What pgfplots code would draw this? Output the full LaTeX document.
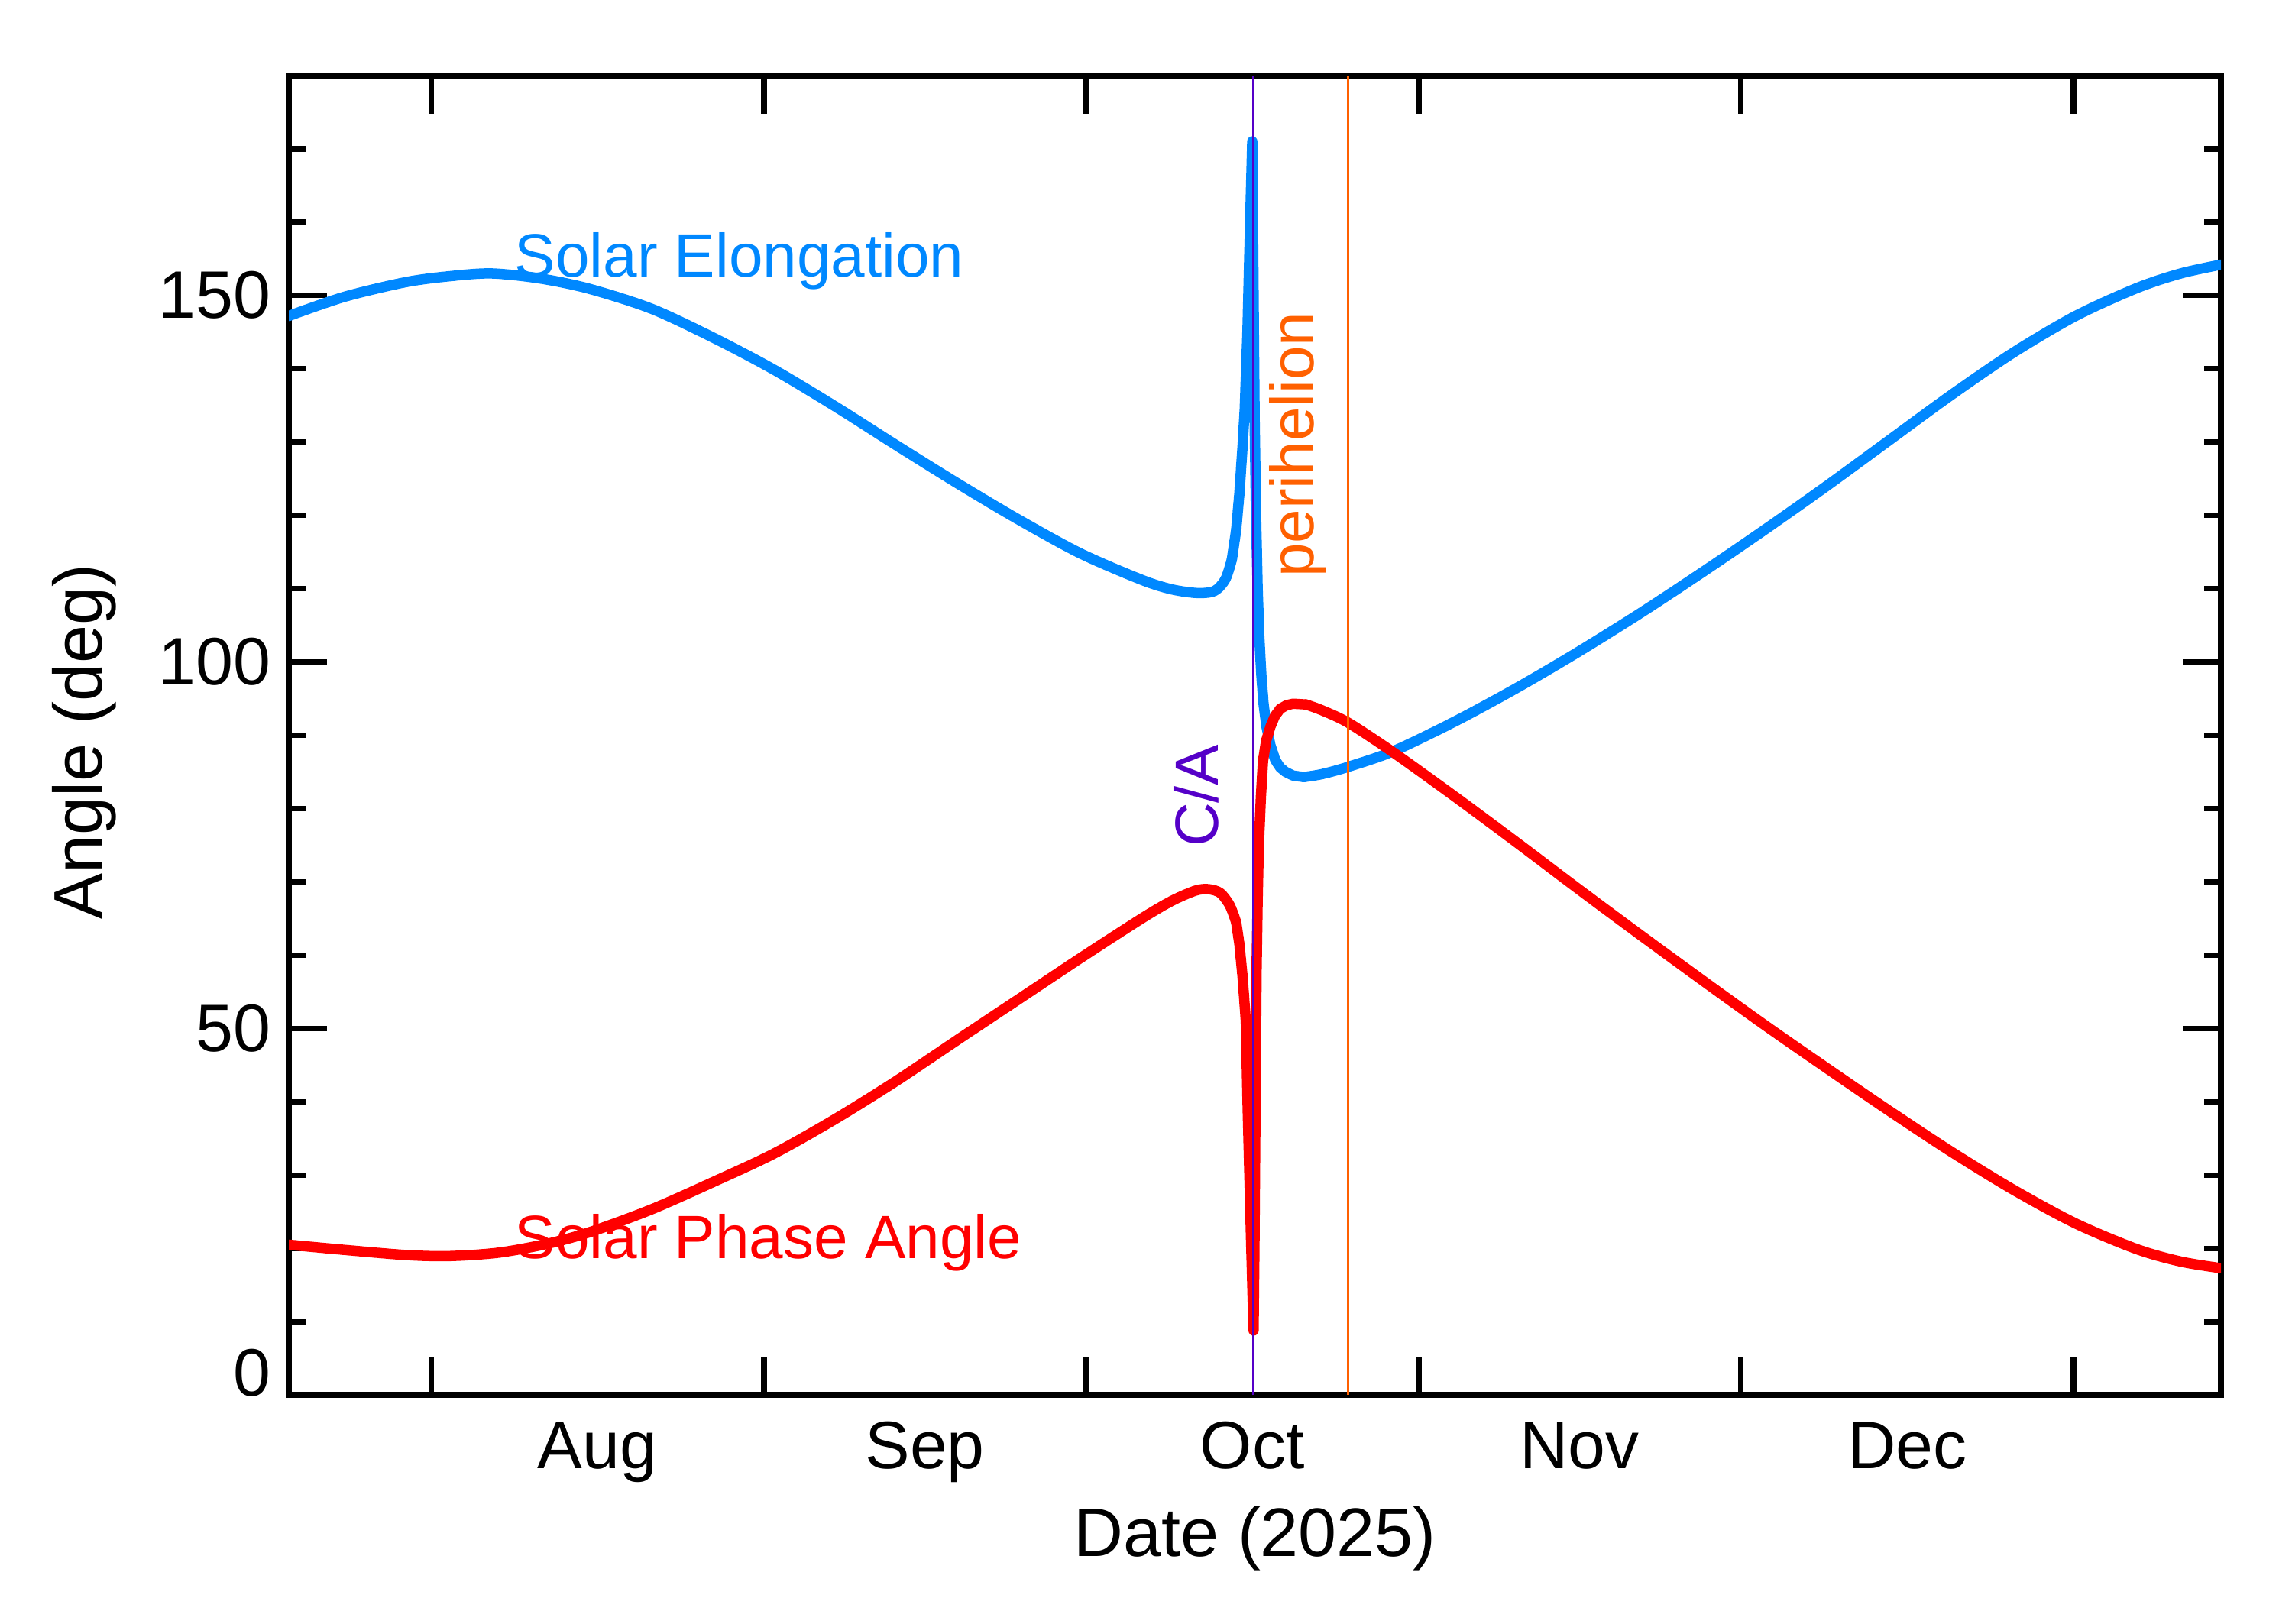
\documentclass[border=0pt]{standalone}
\usepackage{fontspec}
\setmainfont{Liberation Sans}
\usepackage{pgfplots}
\pgfplotsset{compat=1.18}

\definecolor{elong}{RGB}{0,136,255}
\definecolor{phase}{RGB}{255,0,0}
\definecolor{closeapp}{RGB}{85,0,200}
\definecolor{perih}{RGB}{255,96,0}

\begin{document}
\begin{tikzpicture}
% x = days since 1 Aug 2025
\begin{axis}[
    scale only axis,
    width=13.151cm, height=8.982cm,
    xmin=-13.25, xmax=166.75,
    ymin=0, ymax=180,
    axis line style={line width=1.2pt},
    tick style={line width=1.1pt, black},
    tick align=inside,
    major tick length=0.26cm,
    minor tick length=0.113cm,
    xtick={0,31,61,92,122,153},
    xticklabels={},
    extra x ticks={15.5,46,76.5,107,137.5},
    extra x tick labels={Aug,Sep,Oct,Nov,Dec},
    extra x tick style={major tick length=0pt},
    xticklabel style={yshift=-0.06cm},
    ytick={0,50,100,150},
    yticklabels={,50,100,150},
    minor ytick={10,20,30,40,60,70,80,90,110,120,130,140,160,170},
    extra y ticks={0},
    extra y tick labels={0},
    extra y tick style={major tick length=0pt, yticklabel style={yshift=0.15cm}},
    /pgf/number format/assume math mode=true,
    ticklabel style={font=\fontsize{13}{15}\selectfont},
    xlabel={Date (2025)},
    ylabel={Angle (deg)},
    label style={font=\fontsize{13.3}{16}\selectfont},
    xlabel style={at={(axis description cs:0.5,-0.1225)}, anchor=base},
    ylabel style={at={(axis description cs:-0.0968,0.495)}, anchor=base},
    every axis plot/.append style={line width=2pt, line join=round, line cap=round},
    clip=true,
]
% Solar Elongation: broad part before the close approach
\addplot[elong, smooth] coordinates {
(-13.25,147.2) (-8.1,149.8) (-2.4,151.8) (1.6,152.6) (5.6,153.0) (10.2,152.3)
(14.75,150.9) (20.5,148.2) (26.2,144.3) (31.9,139.9) (37.6,134.9) (43.3,129.6)
(49.0,124.4) (54.75,119.4) (60.5,114.8) (66.2,111.2) (69.0,109.9) (71.4,109.4)
(73.0,109.7) (74.0,111.3) (74.6,114.0)
};
% Solar Elongation: spike at close approach
\addplot[elong] coordinates {
(74.6,114.0) (75.0,118.0) (75.3,123.0) (75.6,129.5)
(75.8,134.5) (76.05,145) (76.3,160) (76.5,171) (76.62,150) (76.72,133)
(76.85,120) (77.0,110) (77.15,103.5) (77.34,98.3) (77.55,94.3) (77.82,91.2)
(78.2,88.6) (78.65,86.6) (79.1,85.6) (79.6,85.0) (80.3,84.5) (81.3,84.3)
};
% Solar Elongation: after the close approach
\addplot[elong, smooth] coordinates {
(81.3,84.3) (83.0,84.7) (85.45,85.7) (89.6,87.8) (95.4,91.9) (101.2,96.5)
(106.9,101.4) (112.7,106.7) (118.5,112.3) (124.3,118.1) (130.1,124.1)
(135.8,130.2) (141.6,136.4) (147.4,142.2) (153.2,147.2) (158.9,151.0)
(163.0,153.0) (166.75,154.2)
};
% Solar Phase Angle: before the close approach
\addplot[phase, smooth] coordinates {
(-13.25,20.5) (-8.1,19.8) (-2.4,19.1) (1.6,18.95) (6.2,19.4) (10.75,20.6)
(14.75,22.2) (20.5,25.3) (26.2,29.0) (31.9,32.9) (37.6,37.6) (43.3,42.8)
(49.0,48.4) (54.75,54.0) (60.5,59.6) (66.2,65.0) (69.0,67.4) (71.2,68.8)
(72.4,69.0) (73.5,68.5) (74.4,66.8) (75.0,64.5)
};
% Solar Phase Angle: dip at close approach
\addplot[phase] coordinates {
(75.0,64.5) (75.3,61.5) (75.6,57) (75.9,51) (76.07,39.2) (76.38,21.5)
(76.62,8.8) (76.7,20) (76.8,40) (76.9,58) (77.0,67.5) (77.1,74.7)
(77.3,81.5) (77.5,86.5) (77.8,89.3) (78.2,91.2) (78.6,92.6) (79.1,93.6)
(79.7,94.1) (80.3,94.3) (81.5,94.2)
};
% Solar Phase Angle: after the close approach
\addplot[phase, smooth] coordinates {
(81.5,94.2) (83.0,93.4) (85.45,91.7) (89.6,87.7) (95.4,81.6) (101.2,75.3)
(106.9,69.0) (112.7,62.7) (118.5,56.5) (124.3,50.4) (130.1,44.5) (135.8,38.8)
(141.6,33.2) (147.4,28.0) (153.2,23.4) (158.9,19.9) (163.0,18.2) (166.75,17.3)
};
% close approach and perihelion
\addplot[closeapp, line width=0.45pt, line cap=butt] coordinates {(76.62,0) (76.62,180)};
\addplot[perih, line width=0.45pt, line cap=butt] coordinates {(85.45,0) (85.45,180)};

\node[anchor=base west, inner sep=0pt, text=elong, font=\fontsize{11.85}{14}\selectfont]
    at (axis cs:7.7,152.5) {Solar Elongation};
\node[anchor=base west, inner sep=0pt, text=phase, font=\fontsize{11.85}{14}\selectfont]
    at (axis cs:7.7,18.6) {Solar Phase Angle};
\node[rotate=90, anchor=base west, inner sep=0pt, text=closeapp, font=\fontsize{11.85}{14}\selectfont]
    at (axis cs:73.3,74.6) {C/A};
\node[rotate=90, anchor=base west, inner sep=0pt, text=perih, font=\fontsize{11.85}{14}\selectfont]
    at (axis cs:82.2,111.4) {perihelion};
\end{axis}
\pgfresetboundingbox
\path[use as bounding box] (-1.966,-1.554) rectangle (13.634,9.496);
\end{tikzpicture}
\end{document}
